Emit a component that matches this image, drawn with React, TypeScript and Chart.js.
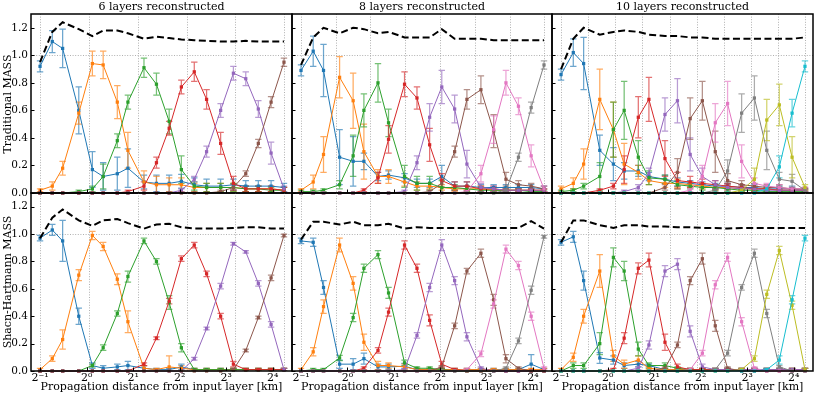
import React, { useEffect, useRef } from "react";
import { Chart, registerables } from "chart.js";

Chart.register(...registerables);

// ---------- data ----------
const distances = [0.5, 0.6, 0.7, 0.89, 1.09, 1.28, 1.58, 1.85, 2.35, 2.83, 3.42, 4.1, 4.97, 5.97, 7.36, 8.9, 10.7, 12.9, 15.6, 18.9];
const xTickValues = [0.5, 1, 2, 4, 8, 16];
const xTickLabels = ["2\u207B\u00B9", "2\u2070", "2\u00B9", "2\u00B2", "2\u00B3", "2\u2074"];
const yTickValues = [0, 0.2, 0.4, 0.6, 0.8, 1.0, 1.2];
const xRange = [0.437, 21.3];
const yRange = [0, 1.3];

const seriesColors = ["#1f77b4", "#ff7f0e", "#2ca02c", "#d62728", "#9467bd", "#8c564b", "#e377c2", "#7f7f7f", "#bcbd22", "#17becf"];

const layers6 = [0.5, 1.03, 2.14, 4.44, 9.18, 19.0];
const layers8 = [0.5, 0.84, 1.41, 2.38, 4.0, 6.73, 11.3, 19.0];
const layers10 = [0.5, 0.75, 1.12, 1.68, 2.52, 3.78, 5.66, 8.48, 12.7, 19.0];

const columnTitles = ["6 layers reconstructed", "8 layers reconstructed", "10 layers reconstructed"];
const rowTitles = ["Traditional MASS", "Shacn-Hartmann MASS"];
const xAxisTitle = "Propagation distance from input layer [km]";

// Traditional MASS, 6 layers
const trad6Values = [
  [0.92, 1.10, 1.05, 0.60, 0.17, 0.12, 0.14, 0.18, 0.08, 0.07, 0.07, 0.085, 0.06, 0.05, 0.05, 0.06, 0.05, 0.05, 0.05, 0.04],
  [0.02, 0.05, 0.18, 0.58, 0.94, 0.93, 0.66, 0.31, 0.08, 0.06, 0.06, 0.06, 0.04, 0.04, 0.04, 0.04, 0.03, 0.03, 0.03, 0.02],
  [0.00, 0.00, 0.00, 0.01, 0.03, 0.12, 0.38, 0.66, 0.91, 0.79, 0.52, 0.17, 0.05, 0.04, 0.04, 0.04, 0.03, 0.03, 0.02, 0.02],
  [0.00, 0.00, 0.00, 0.00, 0.00, 0.00, 0.00, 0.01, 0.05, 0.22, 0.47, 0.77, 0.88, 0.68, 0.36, 0.07, 0.03, 0.03, 0.03, 0.02],
  [0.00, 0.00, 0.00, 0.00, 0.00, 0.00, 0.00, 0.00, 0.00, 0.00, 0.00, 0.02, 0.10, 0.30, 0.60, 0.87, 0.83, 0.61, 0.29, 0.03],
  [0.00, 0.00, 0.00, 0.00, 0.00, 0.00, 0.00, 0.00, 0.00, 0.00, 0.00, 0.00, 0.00, 0.00, 0.01, 0.04, 0.14, 0.36, 0.66, 0.95],
];
const trad6Errors = [
  [0.04, 0.08, 0.14, 0.17, 0.13, 0.10, 0.12, 0.14, 0.05, 0.06, 0.06, 0.05, 0.05, 0.05, 0.05, 0.04, 0.04, 0.04, 0.04, 0.03],
  [0.01, 0.03, 0.05, 0.08, 0.09, 0.10, 0.12, 0.13, 0.08, 0.06, 0.05, 0.05, 0.03, 0.03, 0.03, 0.03, 0.02, 0.02, 0.02, 0.02],
  [0.00, 0.00, 0.00, 0.01, 0.02, 0.09, 0.05, 0.05, 0.07, 0.08, 0.09, 0.10, 0.03, 0.03, 0.03, 0.03, 0.02, 0.02, 0.02, 0.02],
  [0.00, 0.00, 0.00, 0.00, 0.00, 0.00, 0.00, 0.01, 0.03, 0.04, 0.05, 0.05, 0.07, 0.07, 0.08, 0.05, 0.02, 0.02, 0.02, 0.02],
  [0.00, 0.00, 0.00, 0.00, 0.00, 0.00, 0.00, 0.00, 0.00, 0.00, 0.00, 0.01, 0.02, 0.04, 0.05, 0.05, 0.05, 0.06, 0.08, 0.02],
  [0.00, 0.00, 0.00, 0.00, 0.00, 0.00, 0.00, 0.00, 0.00, 0.00, 0.00, 0.00, 0.00, 0.00, 0.01, 0.02, 0.02, 0.03, 0.04, 0.03],
];
const trad6Total = [0.95, 1.17, 1.24, 1.19, 1.14, 1.18, 1.18, 1.16, 1.12, 1.135, 1.125, 1.115, 1.11, 1.105, 1.10, 1.10, 1.105, 1.10, 1.10, 1.10];

// Traditional MASS, 8 layers
const trad8Values = [
  [0.89, 1.03, 0.89, 0.26, 0.23, 0.23, 0.12, 0.13, 0.11, 0.07, 0.07, 0.12, 0.05, 0.05, 0.04, 0.04, 0.04, 0.04, 0.04, 0.03],
  [0.02, 0.08, 0.28, 0.84, 0.67, 0.30, 0.12, 0.12, 0.08, 0.05, 0.05, 0.04, 0.03, 0.03, 0.03, 0.02, 0.02, 0.02, 0.02, 0.02],
  [0.01, 0.01, 0.02, 0.06, 0.27, 0.60, 0.80, 0.51, 0.12, 0.07, 0.07, 0.04, 0.04, 0.03, 0.02, 0.02, 0.02, 0.02, 0.01, 0.01],
  [0.00, 0.00, 0.00, 0.00, 0.00, 0.02, 0.11, 0.39, 0.79, 0.69, 0.35, 0.09, 0.05, 0.05, 0.03, 0.03, 0.02, 0.02, 0.02, 0.02],
  [0.00, 0.00, 0.00, 0.00, 0.00, 0.00, 0.00, 0.00, 0.01, 0.22, 0.55, 0.77, 0.61, 0.21, 0.04, 0.03, 0.02, 0.02, 0.02, 0.02],
  [0.00, 0.00, 0.00, 0.00, 0.00, 0.00, 0.00, 0.00, 0.00, 0.00, 0.01, 0.07, 0.30, 0.68, 0.75, 0.45, 0.10, 0.06, 0.05, 0.03],
  [0.00, 0.00, 0.00, 0.00, 0.00, 0.00, 0.00, 0.00, 0.00, 0.00, 0.00, 0.00, 0.00, 0.01, 0.14, 0.46, 0.80, 0.63, 0.27, 0.03],
  [0.00, 0.00, 0.00, 0.00, 0.00, 0.00, 0.00, 0.00, 0.00, 0.00, 0.00, 0.00, 0.00, 0.00, 0.00, 0.00, 0.02, 0.26, 0.62, 0.93],
];
const trad8Errors = [
  [0.04, 0.11, 0.19, 0.20, 0.18, 0.06, 0.03, 0.03, 0.03, 0.03, 0.03, 0.08, 0.03, 0.03, 0.02, 0.02, 0.02, 0.02, 0.02, 0.02],
  [0.01, 0.05, 0.13, 0.15, 0.20, 0.20, 0.05, 0.05, 0.03, 0.03, 0.02, 0.02, 0.02, 0.02, 0.02, 0.01, 0.01, 0.01, 0.01, 0.01],
  [0.01, 0.01, 0.01, 0.03, 0.15, 0.12, 0.14, 0.10, 0.08, 0.05, 0.05, 0.05, 0.02, 0.02, 0.02, 0.02, 0.01, 0.01, 0.01, 0.01],
  [0.00, 0.00, 0.00, 0.00, 0.00, 0.01, 0.04, 0.10, 0.09, 0.08, 0.12, 0.05, 0.03, 0.03, 0.02, 0.02, 0.01, 0.01, 0.01, 0.01],
  [0.00, 0.00, 0.00, 0.00, 0.00, 0.00, 0.00, 0.00, 0.01, 0.05, 0.10, 0.12, 0.10, 0.10, 0.03, 0.02, 0.01, 0.01, 0.01, 0.01],
  [0.00, 0.00, 0.00, 0.00, 0.00, 0.00, 0.00, 0.00, 0.00, 0.00, 0.01, 0.03, 0.04, 0.07, 0.10, 0.12, 0.05, 0.03, 0.02, 0.02],
  [0.00, 0.00, 0.00, 0.00, 0.00, 0.00, 0.00, 0.00, 0.00, 0.00, 0.00, 0.00, 0.00, 0.01, 0.06, 0.10, 0.09, 0.06, 0.08, 0.02],
  [0.00, 0.00, 0.00, 0.00, 0.00, 0.00, 0.00, 0.00, 0.00, 0.00, 0.00, 0.00, 0.00, 0.00, 0.00, 0.00, 0.01, 0.03, 0.04, 0.03],
];
const trad8Total = [0.93, 1.13, 1.20, 1.16, 1.20, 1.19, 1.16, 1.17, 1.13, 1.13, 1.13, 1.19, 1.12, 1.12, 1.12, 1.11, 1.11, 1.11, 1.11, 1.11];

// Traditional MASS, 10 layers
const trad10Values = [
  [0.86, 1.02, 0.94, 0.31, 0.21, 0.16, 0.16, 0.12, 0.10, 0.08, 0.07, 0.06, 0.05, 0.05, 0.04, 0.04, 0.03, 0.03, 0.03, 0.02],
  [0.03, 0.07, 0.21, 0.68, 0.46, 0.21, 0.15, 0.09, 0.07, 0.07, 0.06, 0.05, 0.04, 0.04, 0.03, 0.03, 0.03, 0.02, 0.02, 0.02],
  [0.01, 0.02, 0.05, 0.12, 0.46, 0.60, 0.26, 0.11, 0.10, 0.06, 0.05, 0.04, 0.04, 0.03, 0.02, 0.02, 0.01, 0.01, 0.01, 0.01],
  [0.00, 0.00, 0.00, 0.02, 0.05, 0.17, 0.55, 0.68, 0.25, 0.09, 0.08, 0.07, 0.06, 0.05, 0.04, 0.03, 0.03, 0.02, 0.02, 0.02],
  [0.00, 0.00, 0.00, 0.00, 0.00, 0.01, 0.04, 0.14, 0.57, 0.67, 0.28, 0.12, 0.06, 0.04, 0.03, 0.03, 0.02, 0.02, 0.02, 0.02],
  [0.00, 0.00, 0.00, 0.00, 0.00, 0.00, 0.00, 0.00, 0.04, 0.15, 0.54, 0.67, 0.30, 0.09, 0.06, 0.05, 0.04, 0.04, 0.03, 0.03],
  [0.00, 0.00, 0.00, 0.00, 0.00, 0.00, 0.00, 0.00, 0.00, 0.00, 0.02, 0.12, 0.51, 0.65, 0.23, 0.07, 0.05, 0.04, 0.03, 0.03],
  [0.00, 0.00, 0.00, 0.00, 0.00, 0.00, 0.00, 0.00, 0.00, 0.00, 0.00, 0.00, 0.02, 0.16, 0.58, 0.69, 0.31, 0.10, 0.085, 0.02],
  [0.00, 0.00, 0.00, 0.00, 0.00, 0.00, 0.00, 0.00, 0.00, 0.00, 0.00, 0.00, 0.00, 0.00, 0.02, 0.10, 0.53, 0.64, 0.26, 0.04],
  [0.00, 0.00, 0.00, 0.00, 0.00, 0.00, 0.00, 0.00, 0.00, 0.00, 0.00, 0.00, 0.00, 0.00, 0.00, 0.00, 0.03, 0.19, 0.58, 0.92],
];
const trad10Errors = [
  [0.04, 0.10, 0.19, 0.11, 0.12, 0.06, 0.04, 0.03, 0.03, 0.03, 0.02, 0.02, 0.02, 0.02, 0.02, 0.02, 0.02, 0.02, 0.02, 0.01],
  [0.02, 0.04, 0.11, 0.22, 0.20, 0.15, 0.05, 0.03, 0.03, 0.03, 0.02, 0.02, 0.02, 0.02, 0.02, 0.01, 0.01, 0.01, 0.01, 0.01],
  [0.01, 0.01, 0.02, 0.10, 0.20, 0.21, 0.12, 0.05, 0.03, 0.03, 0.02, 0.02, 0.02, 0.02, 0.01, 0.01, 0.01, 0.01, 0.01, 0.01],
  [0.00, 0.00, 0.00, 0.01, 0.02, 0.10, 0.15, 0.16, 0.13, 0.06, 0.04, 0.03, 0.03, 0.02, 0.02, 0.02, 0.01, 0.01, 0.01, 0.01],
  [0.00, 0.00, 0.00, 0.00, 0.00, 0.01, 0.02, 0.04, 0.12, 0.16, 0.12, 0.06, 0.03, 0.02, 0.02, 0.01, 0.01, 0.01, 0.01, 0.01],
  [0.00, 0.00, 0.00, 0.00, 0.00, 0.00, 0.00, 0.00, 0.02, 0.10, 0.15, 0.14, 0.15, 0.05, 0.03, 0.02, 0.02, 0.02, 0.01, 0.01],
  [0.00, 0.00, 0.00, 0.00, 0.00, 0.00, 0.00, 0.00, 0.00, 0.00, 0.01, 0.08, 0.14, 0.16, 0.12, 0.04, 0.02, 0.02, 0.01, 0.01],
  [0.00, 0.00, 0.00, 0.00, 0.00, 0.00, 0.00, 0.00, 0.00, 0.00, 0.00, 0.00, 0.01, 0.08, 0.14, 0.16, 0.14, 0.05, 0.05, 0.01],
  [0.00, 0.00, 0.00, 0.00, 0.00, 0.00, 0.00, 0.00, 0.00, 0.00, 0.00, 0.00, 0.00, 0.00, 0.01, 0.08, 0.15, 0.15, 0.15, 0.02],
  [0.00, 0.00, 0.00, 0.00, 0.00, 0.00, 0.00, 0.00, 0.00, 0.00, 0.00, 0.00, 0.00, 0.00, 0.00, 0.00, 0.02, 0.08, 0.10, 0.04],
];
const trad10Total = [0.90, 1.12, 1.20, 1.15, 1.17, 1.18, 1.17, 1.15, 1.14, 1.14, 1.13, 1.13, 1.12, 1.12, 1.12, 1.12, 1.12, 1.12, 1.12, 1.13];

// Shack-Hartmann MASS, 6 layers
const sh6Values = [
  [0.97, 1.03, 0.95, 0.40, 0.04, 0.02, 0.03, 0.04, 0.02, 0.01, 0.01, 0.03, 0.01, 0.01, 0.01, 0.01, 0.01, 0.01, 0.01, 0.01],
  [0.01, 0.09, 0.23, 0.70, 0.99, 0.91, 0.67, 0.36, 0.02, 0.01, 0.03, 0.02, 0.01, 0.01, 0.01, 0.01, 0.01, 0.01, 0.01, 0.01],
  [0.00, 0.00, 0.00, 0.00, 0.04, 0.17, 0.42, 0.69, 0.95, 0.80, 0.50, 0.17, 0.01, 0.01, 0.01, 0.01, 0.01, 0.01, 0.01, 0.01],
  [0.00, 0.00, 0.00, 0.00, 0.00, 0.00, 0.00, 0.00, 0.05, 0.24, 0.51, 0.82, 0.92, 0.71, 0.40, 0.05, 0.01, 0.01, 0.01, 0.01],
  [0.00, 0.00, 0.00, 0.00, 0.00, 0.00, 0.00, 0.00, 0.00, 0.00, 0.00, 0.00, 0.09, 0.31, 0.62, 0.93, 0.87, 0.64, 0.34, 0.01],
  [0.00, 0.00, 0.00, 0.00, 0.00, 0.00, 0.00, 0.00, 0.00, 0.00, 0.00, 0.00, 0.00, 0.00, 0.00, 0.01, 0.15, 0.39, 0.68, 0.99],
];
const sh6Errors = [
  [0.02, 0.04, 0.15, 0.06, 0.02, 0.02, 0.02, 0.03, 0.02, 0.01, 0.01, 0.02, 0.01, 0.01, 0.01, 0.01, 0.01, 0.01, 0.01, 0.01],
  [0.01, 0.02, 0.07, 0.04, 0.03, 0.03, 0.04, 0.08, 0.02, 0.01, 0.08, 0.02, 0.01, 0.01, 0.01, 0.01, 0.01, 0.01, 0.01, 0.01],
  [0.00, 0.00, 0.00, 0.00, 0.01, 0.02, 0.02, 0.04, 0.02, 0.02, 0.05, 0.03, 0.01, 0.01, 0.01, 0.01, 0.01, 0.01, 0.01, 0.01],
  [0.00, 0.00, 0.00, 0.00, 0.00, 0.00, 0.00, 0.00, 0.01, 0.01, 0.02, 0.02, 0.02, 0.02, 0.02, 0.02, 0.01, 0.01, 0.01, 0.01],
  [0.00, 0.00, 0.00, 0.00, 0.00, 0.00, 0.00, 0.00, 0.00, 0.00, 0.00, 0.00, 0.01, 0.01, 0.02, 0.01, 0.01, 0.02, 0.02, 0.01],
  [0.00, 0.00, 0.00, 0.00, 0.00, 0.00, 0.00, 0.00, 0.00, 0.00, 0.00, 0.00, 0.00, 0.00, 0.00, 0.01, 0.01, 0.01, 0.02, 0.01],
];
const sh6Total = [0.97, 1.12, 1.18, 1.10, 1.06, 1.10, 1.11, 1.08, 1.04, 1.07, 1.075, 1.05, 1.04, 1.04, 1.04, 1.045, 1.05, 1.05, 1.04, 1.04];

// Shack-Hartmann MASS, 8 layers
const sh8Values = [
  [0.95, 0.94, 0.61, 0.05, 0.05, 0.09, 0.03, 0.03, 0.035, 0.01, 0.01, 0.01, 0.01, 0.01, 0.01, 0.01, 0.01, 0.01, 0.05, 0.01],
  [0.01, 0.14, 0.47, 0.92, 0.64, 0.21, 0.04, 0.04, 0.03, 0.01, 0.01, 0.01, 0.01, 0.01, 0.01, 0.01, 0.01, 0.01, 0.01, 0.01],
  [0.00, 0.01, 0.01, 0.095, 0.39, 0.75, 0.85, 0.57, 0.06, 0.02, 0.02, 0.01, 0.00, 0.00, 0.00, 0.00, 0.00, 0.00, 0.00, 0.00],
  [0.00, 0.00, 0.00, 0.00, 0.00, 0.02, 0.15, 0.43, 0.92, 0.75, 0.37, 0.05, 0.01, 0.00, 0.00, 0.00, 0.00, 0.00, 0.00, 0.00],
  [0.00, 0.00, 0.00, 0.00, 0.00, 0.00, 0.00, 0.00, 0.01, 0.26, 0.61, 0.92, 0.66, 0.25, 0.02, 0.00, 0.00, 0.00, 0.00, 0.00],
  [0.00, 0.00, 0.00, 0.00, 0.00, 0.00, 0.00, 0.00, 0.00, 0.00, 0.00, 0.03, 0.33, 0.73, 0.86, 0.52, 0.09, 0.02, 0.00, 0.00],
  [0.00, 0.00, 0.00, 0.00, 0.00, 0.00, 0.00, 0.00, 0.00, 0.00, 0.00, 0.00, 0.00, 0.01, 0.125, 0.49, 0.89, 0.77, 0.40, 0.02],
  [0.00, 0.00, 0.00, 0.00, 0.00, 0.00, 0.00, 0.00, 0.00, 0.00, 0.00, 0.00, 0.00, 0.00, 0.00, 0.00, 0.02, 0.22, 0.59, 0.98],
];
const sh8Errors = [
  [0.02, 0.03, 0.05, 0.03, 0.04, 0.04, 0.02, 0.02, 0.02, 0.01, 0.01, 0.01, 0.01, 0.01, 0.01, 0.01, 0.01, 0.01, 0.07, 0.01],
  [0.01, 0.03, 0.05, 0.05, 0.05, 0.06, 0.03, 0.02, 0.02, 0.01, 0.01, 0.01, 0.01, 0.01, 0.01, 0.01, 0.01, 0.01, 0.01, 0.01],
  [0.00, 0.01, 0.01, 0.02, 0.03, 0.03, 0.03, 0.04, 0.02, 0.01, 0.01, 0.01, 0.00, 0.00, 0.00, 0.00, 0.00, 0.00, 0.00, 0.00],
  [0.00, 0.00, 0.00, 0.00, 0.00, 0.01, 0.02, 0.03, 0.03, 0.03, 0.04, 0.02, 0.01, 0.00, 0.00, 0.00, 0.00, 0.00, 0.00, 0.00],
  [0.00, 0.00, 0.00, 0.00, 0.00, 0.00, 0.00, 0.00, 0.01, 0.02, 0.03, 0.04, 0.03, 0.03, 0.01, 0.00, 0.00, 0.00, 0.00, 0.00],
  [0.00, 0.00, 0.00, 0.00, 0.00, 0.00, 0.00, 0.00, 0.00, 0.00, 0.00, 0.01, 0.02, 0.02, 0.03, 0.04, 0.03, 0.01, 0.00, 0.00],
  [0.00, 0.00, 0.00, 0.00, 0.00, 0.00, 0.00, 0.00, 0.00, 0.00, 0.00, 0.00, 0.00, 0.01, 0.02, 0.03, 0.03, 0.03, 0.03, 0.01],
  [0.00, 0.00, 0.00, 0.00, 0.00, 0.00, 0.00, 0.00, 0.00, 0.00, 0.00, 0.00, 0.00, 0.00, 0.00, 0.00, 0.01, 0.02, 0.03, 0.01],
];
const sh8Total = [0.96, 1.09, 1.09, 1.07, 1.09, 1.065, 1.065, 1.075, 1.04, 1.05, 1.045, 1.045, 1.045, 1.045, 1.045, 1.045, 1.045, 1.045, 1.095, 1.04];

// Shack-Hartmann MASS, 10 layers
const sh10Values = [
  [0.94, 0.98, 0.66, 0.095, 0.08, 0.04, 0.05, 0.04, 0.01, 0.01, 0.01, 0.01, 0.01, 0.01, 0.01, 0.01, 0.01, 0.01, 0.01, 0.01],
  [0.01, 0.10, 0.40, 0.73, 0.11, 0.05, 0.08, 0.02, 0.01, 0.01, 0.01, 0.01, 0.01, 0.01, 0.01, 0.01, 0.01, 0.01, 0.01, 0.01],
  [0.00, 0.04, 0.04, 0.20, 0.83, 0.73, 0.16, 0.04, 0.04, 0.02, 0.01, 0.01, 0.01, 0.01, 0.01, 0.01, 0.01, 0.01, 0.01, 0.01],
  [0.00, 0.00, 0.00, 0.00, 0.01, 0.24, 0.75, 0.81, 0.21, 0.03, 0.01, 0.01, 0.01, 0.01, 0.01, 0.01, 0.01, 0.01, 0.01, 0.01],
  [0.00, 0.00, 0.00, 0.00, 0.00, 0.00, 0.02, 0.19, 0.73, 0.78, 0.29, 0.03, 0.01, 0.01, 0.01, 0.01, 0.01, 0.01, 0.01, 0.01],
  [0.00, 0.00, 0.00, 0.00, 0.00, 0.00, 0.00, 0.00, 0.02, 0.19, 0.66, 0.82, 0.33, 0.02, 0.00, 0.00, 0.00, 0.00, 0.00, 0.00],
  [0.00, 0.00, 0.00, 0.00, 0.00, 0.00, 0.00, 0.00, 0.00, 0.00, 0.01, 0.13, 0.63, 0.83, 0.36, 0.02, 0.00, 0.00, 0.00, 0.00],
  [0.00, 0.00, 0.00, 0.00, 0.00, 0.00, 0.00, 0.00, 0.00, 0.00, 0.00, 0.00, 0.01, 0.13, 0.61, 0.86, 0.42, 0.03, 0.00, 0.00],
  [0.00, 0.00, 0.00, 0.00, 0.00, 0.00, 0.00, 0.00, 0.00, 0.00, 0.00, 0.00, 0.00, 0.00, 0.01, 0.09, 0.56, 0.88, 0.48, 0.01],
  [0.00, 0.00, 0.00, 0.00, 0.00, 0.00, 0.00, 0.00, 0.00, 0.00, 0.00, 0.00, 0.00, 0.00, 0.00, 0.00, 0.01, 0.08, 0.52, 0.97],
];
const sh10Errors = [
  [0.02, 0.04, 0.07, 0.04, 0.03, 0.02, 0.02, 0.01, 0.01, 0.01, 0.01, 0.01, 0.01, 0.01, 0.01, 0.01, 0.01, 0.01, 0.01, 0.01],
  [0.01, 0.03, 0.05, 0.12, 0.04, 0.03, 0.03, 0.01, 0.01, 0.01, 0.01, 0.01, 0.01, 0.01, 0.01, 0.01, 0.01, 0.01, 0.01, 0.01],
  [0.00, 0.02, 0.02, 0.08, 0.07, 0.07, 0.05, 0.02, 0.02, 0.01, 0.01, 0.01, 0.01, 0.01, 0.01, 0.01, 0.01, 0.01, 0.01, 0.01],
  [0.00, 0.00, 0.00, 0.00, 0.01, 0.04, 0.04, 0.05, 0.06, 0.02, 0.01, 0.01, 0.01, 0.01, 0.01, 0.01, 0.01, 0.01, 0.01, 0.01],
  [0.00, 0.00, 0.00, 0.00, 0.00, 0.00, 0.01, 0.03, 0.04, 0.04, 0.04, 0.02, 0.01, 0.01, 0.01, 0.01, 0.01, 0.01, 0.01, 0.01],
  [0.00, 0.00, 0.00, 0.00, 0.00, 0.00, 0.00, 0.00, 0.01, 0.02, 0.03, 0.04, 0.04, 0.01, 0.00, 0.00, 0.00, 0.00, 0.00, 0.00],
  [0.00, 0.00, 0.00, 0.00, 0.00, 0.00, 0.00, 0.00, 0.00, 0.00, 0.01, 0.02, 0.03, 0.03, 0.03, 0.01, 0.00, 0.00, 0.00, 0.00],
  [0.00, 0.00, 0.00, 0.00, 0.00, 0.00, 0.00, 0.00, 0.00, 0.00, 0.00, 0.00, 0.01, 0.02, 0.02, 0.03, 0.03, 0.01, 0.00, 0.00],
  [0.00, 0.00, 0.00, 0.00, 0.00, 0.00, 0.00, 0.00, 0.00, 0.00, 0.00, 0.00, 0.00, 0.00, 0.01, 0.02, 0.03, 0.03, 0.03, 0.01],
  [0.00, 0.00, 0.00, 0.00, 0.00, 0.00, 0.00, 0.00, 0.00, 0.00, 0.00, 0.00, 0.00, 0.00, 0.00, 0.00, 0.01, 0.03, 0.03, 0.02],
];
const sh10Total = [0.94, 1.10, 1.10, 1.065, 1.045, 1.065, 1.065, 1.055, 1.055, 1.05, 1.05, 1.045, 1.045, 1.04, 1.045, 1.045, 1.045, 1.045, 1.045, 1.045];

// ---------- layout ----------
const FIG_W = 817;
const FIG_H = 396;
const colEdges = [31, 292, 552, 813];
const rowEdges = [14, 193, 371];
const FONT = "'DejaVu Serif', serif";

const panels = [
  { row: 0, col: 0, values: trad6Values, errors: trad6Errors, total: trad6Total, layers: layers6 },
  { row: 0, col: 1, values: trad8Values, errors: trad8Errors, total: trad8Total, layers: layers8 },
  { row: 0, col: 2, values: trad10Values, errors: trad10Errors, total: trad10Total, layers: layers10 },
  { row: 1, col: 0, values: sh6Values, errors: sh6Errors, total: sh6Total, layers: layers6 },
  { row: 1, col: 1, values: sh8Values, errors: sh8Errors, total: sh8Total, layers: layers8 },
  { row: 1, col: 2, values: sh10Values, errors: sh10Errors, total: sh10Total, layers: layers10 },
];

function hexToRgba(hex: string, a: number) {
  const n = parseInt(hex.slice(1), 16);
  return `rgba(${(n >> 16) & 255},${(n >> 8) & 255},${n & 255},${a})`;
}

function makeDecorPlugin(layers: number[]) {
  return {
    id: "panelDecor",
    beforeDatasetsDraw(chart: any) {
      const { ctx, chartArea: a, scales } = chart;
      const xs = scales.x;
      const ys = scales.y;
      ctx.save();
      ctx.beginPath();
      ctx.rect(a.left, a.top, a.right - a.left, a.bottom - a.top);
      ctx.clip();
      // dotted reference lines
      ctx.strokeStyle = "#b0b0b0";
      ctx.lineWidth = 1;
      ctx.setLineDash([1, 1.6]);
      const y1 = Math.round(ys.getPixelForValue(1)) + 0.5;
      ctx.beginPath();
      ctx.moveTo(a.left, y1);
      ctx.lineTo(a.right, y1);
      ctx.stroke();
      layers.forEach((l) => {
        const px = Math.round(xs.getPixelForValue(l)) + 0.5;
        ctx.beginPath();
        ctx.moveTo(px, a.top);
        ctx.lineTo(px, a.bottom);
        ctx.stroke();
      });
      ctx.setLineDash([]);
      // error bars
      chart.data.datasets.forEach((ds: any) => {
        if (!ds.errorBars) return;
        ctx.strokeStyle = hexToRgba(ds.borderColor, 0.65);
        ctx.lineWidth = 1.25;
        ds.data.forEach((p: any, i: number) => {
          const e = ds.errorBars[i];
          if (!e || e < 0.004) return;
          const px = xs.getPixelForValue(p.x);
          const top = ys.getPixelForValue(p.y + e);
          const bot = ys.getPixelForValue(p.y - e);
          ctx.beginPath();
          ctx.moveTo(px, top);
          ctx.lineTo(px, bot);
          ctx.moveTo(px - 3.2, top);
          ctx.lineTo(px + 3.2, top);
          ctx.moveTo(px - 3.2, bot);
          ctx.lineTo(px + 3.2, bot);
          ctx.stroke();
        });
      });
      ctx.restore();
    },
    afterDraw(chart: any) {
      const { ctx, chartArea: a, scales } = chart;
      ctx.save();
      ctx.strokeStyle = "#000";
      ctx.lineWidth = 1;
      yTickValues.forEach((v) => {
        const py = Math.round(scales.y.getPixelForValue(v)) + 0.5;
        ctx.beginPath();
        ctx.moveTo(a.left, py);
        ctx.lineTo(a.left + 3.5, py);
        ctx.stroke();
      });
      xTickValues.forEach((v) => {
        const px = Math.round(scales.x.getPixelForValue(v)) + 0.5;
        ctx.beginPath();
        ctx.moveTo(px, a.bottom);
        ctx.lineTo(px, a.bottom - 3.5);
        ctx.stroke();
      });
      ctx.lineWidth = 1.5;
      ctx.strokeRect(a.left, a.top, a.right - a.left, a.bottom - a.top);
      ctx.restore();
    },
  };
}

function Panel({ spec }: { spec: any }) {
  const ref = useRef<HTMLCanvasElement | null>(null);
  const { row, col } = spec;
  const L = colEdges[col];
  const R = colEdges[col + 1];
  const T = rowEdges[row];
  const B = rowEdges[row + 1];
  const padL = col === 0 ? L : 6;
  const padR = 6;
  const padT = row === 0 ? T : 6;
  const padB = row === 1 ? FIG_H - B : 6;
  const width = R - L + padL + padR;
  const height = B - T + padT + padB;
  const yScaleW = col === 0 ? padL : 0;
  const xScaleH = row === 1 ? padB : 0;

  useEffect(() => {
    if (!ref.current) return;
    const datasets: any[] = [
      {
        label: "sum",
        data: distances.map((x, i) => ({ x, y: spec.total[i] })),
        borderColor: "#000000",
        backgroundColor: "#000000",
        borderWidth: 2,
        borderDash: [7, 3.5],
        pointRadius: 0,
        fill: false,
        order: 0,
        clip: 2,
      },
      ...spec.values.map((vals: number[], k: number) => ({
        label: `layer ${k + 1}`,
        data: distances.map((x, i) => ({ x, y: vals[i] })),
        borderColor: seriesColors[k],
        backgroundColor: seriesColors[k],
        pointBackgroundColor: seriesColors[k],
        pointBorderWidth: 0,
        borderWidth: 1,
        pointRadius: 2.3,
        pointStyle: "rect",
        fill: false,
        order: 100 - k,
        clip: 2,
        errorBars: spec.errors[k],
      })),
    ];
    const tickFont = { family: FONT, size: 10.5 };
    const chart = new Chart(ref.current, {
      type: "line",
      data: { datasets },
      options: {
        animation: false,
        responsive: false,
        maintainAspectRatio: false,
        devicePixelRatio: 1,
        events: [],
        layout: {
          padding: {
            left: padL - yScaleW,
            right: padR,
            top: padT,
            bottom: padB - xScaleH,
          },
        },
        plugins: {
          legend: { display: false },
          tooltip: { enabled: false },
          title: { display: false },
        },
        elements: { line: { tension: 0 } },
        scales: {
          x: {
            type: "logarithmic",
            position: "bottom",
            bounds: "data",
            min: xRange[0],
            max: xRange[1],
            grid: { display: false, drawTicks: false },
            border: { display: false },
            ticks: {
              display: row === 1,
              autoSkip: false,
              maxRotation: 0,
              minRotation: 0,
              padding: 1,
              color: "#000",
              font: { family: FONT, size: 11 },
              callback: (_v: any, i: number) => xTickLabels[i],
            },
            afterBuildTicks: (s: any) => {
              s.ticks = xTickValues.map((v) => ({ value: v }));
            },
            afterFit: (s: any) => {
              s.height = xScaleH;
              s.paddingLeft = 0;
              s.paddingRight = 0;
              s.paddingTop = 0;
              s.paddingBottom = 0;
            },
          },
          y: {
            type: "linear",
            position: "left",
            bounds: "data",
            min: yRange[0],
            max: yRange[1],
            grid: { display: false, drawTicks: false },
            border: { display: false },
            ticks: {
              display: col === 0,
              autoSkip: false,
              padding: 3,
              color: "#000",
              font: tickFont,
              callback: (v: any) => Number(v).toFixed(1),
            },
            afterBuildTicks: (s: any) => {
              s.ticks = yTickValues.map((v) => ({ value: v }));
            },
            afterFit: (s: any) => {
              s.width = yScaleW;
              s.paddingLeft = 0;
              s.paddingRight = 0;
              s.paddingTop = 0;
              s.paddingBottom = 0;
            },
          },
        },
      } as any,
      plugins: [makeDecorPlugin(spec.layers)],
    });
    return () => chart.destroy();
  }, []);

  return (
    <canvas
      ref={ref}
      width={width}
      height={height}
      style={{ position: "absolute", left: L - padL, top: T - padT, width, height }}
    />
  );
}

export default function App() {
  const textBase: React.CSSProperties = {
    position: "absolute",
    fontFamily: FONT,
    fontSize: 11,
    lineHeight: "13px",
    color: "#000",
    whiteSpace: "nowrap",
  };
  return (
    <div
      style={{
        position: "fixed",
        left: 0,
        top: 0,
        width: FIG_W,
        height: FIG_H,
        background: "#fff",
        overflow: "hidden",
      }}
    >
      {panels.map((p, i) => (
        <Panel key={i} spec={p} />
      ))}
      {columnTitles.map((t, c) => (
        <div
          key={"t" + c}
          style={{ ...textBase, left: colEdges[c], width: colEdges[c + 1] - colEdges[c], top: 0, textAlign: "center" }}
        >
          {t}
        </div>
      ))}
      {rowTitles.map((t, r) => (
        <div
          key={"r" + r}
          style={{
            ...textBase,
            left: 6.5,
            top: (rowEdges[r] + rowEdges[r + 1]) / 2,
            transform: "translate(-50%, -50%) rotate(-90deg)",
          }}
        >
          {t}
        </div>
      ))}
      {[0, 1, 2].map((c) => (
        <div
          key={"x" + c}
          style={{ ...textBase, left: colEdges[c], width: colEdges[c + 1] - colEdges[c], top: 380, textAlign: "center" }}
        >
          {xAxisTitle}
        </div>
      ))}
    </div>
  );
}
